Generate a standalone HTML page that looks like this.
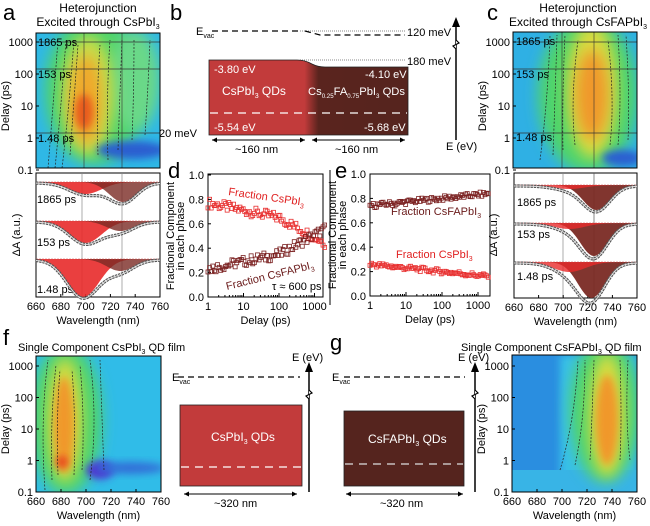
<!DOCTYPE html>
<html><head><meta charset="utf-8"><style>
html,body{margin:0;padding:0;background:#fff}
svg{display:block;font-family:"Liberation Sans",sans-serif}
</style></head><body>
<svg id="s" width="650" height="526" viewBox="0 0 650 526" xmlns="http://www.w3.org/2000/svg">
<defs>
<filter id="bl" x="-50%" y="-50%" width="200%" height="200%"><feGaussianBlur stdDeviation="7"/></filter>
<filter id="bl2" x="-50%" y="-50%" width="200%" height="200%"><feGaussianBlur stdDeviation="4"/></filter>
<linearGradient id="bg" x1="0" x2="1"><stop offset="0" stop-color="#c23b3b"/><stop offset="0.48" stop-color="#c23b3b"/><stop offset="0.55" stop-color="#5a241e"/><stop offset="1" stop-color="#55241e"/></linearGradient>
<clipPath id="ca"><rect x="36" y="33" width="124" height="135"/></clipPath>
<clipPath id="cc"><rect x="513" y="32" width="124" height="136"/></clipPath>
<clipPath id="cf"><rect x="36" y="356" width="125" height="136"/></clipPath>
<clipPath id="cg"><rect x="512" y="355" width="125" height="137"/></clipPath>
</defs>

<!-- Panel a heatmap -->
<g clip-path="url(#ca)">
<rect x="36" y="33" width="124" height="135" fill="#2fb8e6"/>
<ellipse cx="95" cy="90" rx="50" ry="75" fill="#4fd46a" filter="url(#bl)"/>
<ellipse cx="135" cy="80" rx="25" ry="50" fill="#6ad888" filter="url(#bl)"/>
<ellipse cx="88" cy="95" rx="26" ry="60" fill="#c8dc48" filter="url(#bl)"/>
<ellipse cx="86" cy="100" rx="16" ry="45" fill="#f0a82a" filter="url(#bl)"/>
<ellipse cx="84" cy="112" rx="9" ry="18" fill="#e85a1e" filter="url(#bl2)"/>
<ellipse cx="132" cy="150" rx="35" ry="9" fill="#2a5fd0" filter="url(#bl2)"/>
<path d="M48 168 Q52 120 58 40 M55 168 Q60 120 66 40 M62 168 Q68 120 74 40 M70 155 Q74 100 78 45 M98 155 Q96 100 100 45 M108 160 Q106 100 110 40 M118 150 Q120 90 122 40 M132 140 Q134 90 134 40 M145 135 Q148 90 150 40" stroke="#222" stroke-width="0.7" fill="none" stroke-dasharray="2 1.5"/>
<line x1="36" y1="42" x2="160" y2="42" stroke="#333" stroke-width="0.8"/>
<line x1="36" y1="69" x2="160" y2="69" stroke="#333" stroke-width="0.8"/>
<line x1="36" y1="133" x2="160" y2="133" stroke="#333" stroke-width="0.8"/>
<line x1="84" y1="33" x2="84" y2="168" stroke="#333" stroke-width="0.6"/>
<line x1="122" y1="33" x2="122" y2="168" stroke="#333" stroke-width="0.6"/>
</g>
<rect x="36" y="33" width="124" height="135" fill="none" stroke="#000" stroke-width="1"/>
<!-- Panel c heatmap -->
<g clip-path="url(#cc)">
<rect x="513" y="32" width="124" height="136" fill="#2fb0e4"/>
<ellipse cx="588" cy="95" rx="50" ry="78" fill="#4fd46a" filter="url(#bl)"/>
<ellipse cx="592" cy="90" rx="25" ry="68" fill="#d8dc40" filter="url(#bl)"/>
<ellipse cx="592" cy="95" rx="16" ry="45" fill="#f0982a" filter="url(#bl)"/>
<ellipse cx="622" cy="158" rx="20" ry="8" fill="#2a5fd0" filter="url(#bl2)"/>
<path d="M540 160 Q548 100 550 35 M553 155 Q555 100 557 35 M563 150 Q562 100 565 35 M575 145 Q570 100 578 40 M610 145 Q615 100 608 40 M618 145 Q622 100 618 35 M628 140 Q630 100 626 35" stroke="#222" stroke-width="0.7" fill="none" stroke-dasharray="2 1.5"/>
<line x1="513" y1="42" x2="637" y2="42" stroke="#333" stroke-width="0.8"/>
<line x1="513" y1="69" x2="637" y2="69" stroke="#333" stroke-width="0.8"/>
<line x1="513" y1="133" x2="637" y2="133" stroke="#333" stroke-width="0.8"/>
<line x1="562" y1="32" x2="562" y2="168" stroke="#333" stroke-width="0.6"/>
<line x1="594" y1="32" x2="594" y2="168" stroke="#333" stroke-width="0.6"/>
</g>
<rect x="513" y="32" width="124" height="136" fill="none" stroke="#000"/>
<!-- Panel f heatmap -->
<g clip-path="url(#cf)">
<rect x="36" y="356" width="125" height="136" fill="#30bce8"/>
<ellipse cx="66" cy="420" rx="36" ry="75" fill="#4fd46a" filter="url(#bl)"/>
<ellipse cx="65" cy="420" rx="17" ry="62" fill="#d8dc40" filter="url(#bl)"/>
<ellipse cx="64" cy="425" rx="10" ry="48" fill="#f0982a" filter="url(#bl2)"/>
<ellipse cx="62" cy="462" rx="6" ry="6" fill="#e8401e" filter="url(#bl2)"/>
<ellipse cx="100" cy="470" rx="14" ry="9" fill="#5030d0" filter="url(#bl2)"/>
<ellipse cx="130" cy="468" rx="35" ry="6" fill="#3070d8" filter="url(#bl2)"/>
<path d="M45 490 Q40 420 48 360 M52 480 Q50 420 56 365 M58 475 Q56 420 60 370 M74 475 Q76 420 72 370 M82 470 Q85 420 80 365 M90 480 Q98 420 90 360 M104 470 Q102 420 100 360" stroke="#222" stroke-width="0.7" fill="none" stroke-dasharray="2 1.5"/>
</g>
<rect x="36" y="356" width="125" height="136" fill="none" stroke="#000"/>
<!-- Panel g heatmap -->
<g clip-path="url(#cg)">
<rect x="512" y="355" width="125" height="137" fill="#2a8ee0"/>
<rect x="560" y="355" width="77" height="137" fill="#38c0e8" filter="url(#bl2)"/>
<rect x="512" y="470" width="125" height="22" fill="#38b4e6"/>
<ellipse cx="605" cy="410" rx="35" ry="72" fill="#4fd46a" filter="url(#bl)"/>
<ellipse cx="607" cy="415" rx="18" ry="62" fill="#d8dc40" filter="url(#bl)"/>
<ellipse cx="607" cy="420" rx="11" ry="45" fill="#f0982a" filter="url(#bl2)"/>
<path d="M560 470 Q575 420 578 360 M575 465 Q585 420 585 360 M590 460 Q592 420 594 360 M620 460 Q622 420 620 360 M630 460 Q625 420 628 360" stroke="#222" stroke-width="0.7" fill="none" stroke-dasharray="2 1.5"/>
</g>
<rect x="512" y="355" width="125" height="137" fill="none" stroke="#000"/>

<!-- spectra boxes -->
<rect x="36" y="173" width="124" height="124" fill="none" stroke="#000"/>
<rect x="514" y="173" width="123" height="125" fill="none" stroke="#000"/>
<g id="specA"></g><g id="specC"></g>
<line x1="82" y1="173" x2="82" y2="297" stroke="#888" stroke-width="0.7"/>
<line x1="122" y1="173" x2="122" y2="297" stroke="#888" stroke-width="0.7"/>
<line x1="563" y1="173" x2="563" y2="298" stroke="#888" stroke-width="0.7"/>
<line x1="594" y1="173" x2="594" y2="298" stroke="#555" stroke-width="0.7"/>

<!-- d and e -->
<rect x="208" y="174" width="115" height="123" fill="none" stroke="#000"/>
<rect x="370" y="174" width="120" height="122" fill="none" stroke="#000"/>
<line x1="330" y1="170" x2="330" y2="305" stroke="#000" stroke-width="1"/>
<g id="pts"></g>

<!-- panel b -->
<line x1="212" y1="31" x2="300" y2="31" stroke="#000" stroke-dasharray="6 4" stroke-width="1.2"/>
<line x1="300" y1="31" x2="405" y2="31" stroke="#888" stroke-dasharray="1 1"/>
<path d="M305 31 L320 35 L405 35" stroke="#000" stroke-dasharray="6 4" fill="none" stroke-width="1.2"/>
<line x1="300" y1="60" x2="405" y2="60" stroke="#888" stroke-dasharray="1 1"/>
<path d="M209 60 L297 60 Q305 60 312 64 Q318 67 325 67 L408 67 L408 135 L209 135 Z" fill="url(#bg)" stroke="#222" stroke-width="0.8"/>
<line x1="210" y1="113" x2="407" y2="113" stroke="#fff" stroke-dasharray="8 6" stroke-width="1.2"/>
<text x="214" y="73" font-size="11" fill="#fff">-3.80 eV</text>
<text x="365" y="78" font-size="11" fill="#fff">-4.10 eV</text>
<text x="222" y="95" font-size="12" fill="#fff">CsPbI<tspan font-size="7" dy="3">3</tspan><tspan dy="-3"> QDs</tspan></text>
<text x="308" y="95" font-size="11" fill="#fff" textLength="97" lengthAdjust="spacingAndGlyphs">Cs<tspan font-size="6" dy="3">0.25</tspan><tspan dy="-3">FA</tspan><tspan font-size="6" dy="3">0.75</tspan><tspan dy="-3">PbI</tspan><tspan font-size="6" dy="3">3</tspan><tspan dy="-3"> QDs</tspan></text>
<text x="214" y="131" font-size="11" fill="#fff">-5.54 eV</text>
<text x="364" y="131" font-size="11" fill="#fff">-5.68 eV</text>
<text x="159" y="137" font-size="11">20 meV</text>
<text x="407" y="36" font-size="11">120 meV</text>
<text x="407" y="65" font-size="11">180 meV</text>
<text x="196" y="35" font-size="11">E<tspan font-size="7" dy="3">vac</tspan></text>
<line x1="212" y1="140" x2="305" y2="140" stroke="#000"/><path d="M212 140 l5 -2.5 v5z M305 140 l-5 -2.5 v5z"/>
<line x1="312" y1="140" x2="405" y2="140" stroke="#000"/><path d="M312 140 l5 -2.5 v5z M405 140 l-5 -2.5 v5z"/>
<text x="235" y="153" font-size="11">~160 nm</text>
<text x="335" y="153" font-size="11">~160 nm</text>
<line x1="456" y1="140" x2="456" y2="25" stroke="#000" stroke-width="1.5"/><path d="M456 17 l-4 10 h8z"/>
<path d="M456 40 l3 3 l-6 3 l3 3" stroke="#000" fill="#fff" stroke-width="1.2"/>
<text x="446" y="150" font-size="11">E (eV)</text>

<!-- panel f box -->
<line x1="178" y1="377" x2="300" y2="377" stroke="#000" stroke-dasharray="6 4" stroke-width="1.2"/>
<text x="172" y="381" font-size="11">E<tspan font-size="7" dy="3">vac</tspan></text>
<rect x="180" y="405" width="122" height="81" fill="#c23b3b" stroke="#222" stroke-width="0.8"/>
<line x1="181" y1="467" x2="301" y2="467" stroke="#fff" stroke-dasharray="8 6" stroke-width="1.2"/>
<text x="211" y="441" font-size="12" fill="#fff">CsPbI<tspan font-size="7" dy="3">3</tspan><tspan dy="-3"> QDs</tspan></text>
<line x1="184" y1="494" x2="297" y2="494" stroke="#000"/><path d="M184 494 l5 -2.5 v5z M297 494 l-5 -2.5 v5z"/>
<text x="214" y="507" font-size="11">~320 nm</text>
<line x1="309" y1="492" x2="309" y2="370" stroke="#000" stroke-width="1.5"/><path d="M309 362 l-4 10 h8z"/>
<path d="M309 390 l3 3 l-6 3 l3 3" stroke="#000" fill="#fff" stroke-width="1.2"/>
<text x="292" y="361" font-size="11">E (eV)</text>

<!-- panel g box -->
<line x1="344" y1="377" x2="465" y2="377" stroke="#000" stroke-dasharray="6 4" stroke-width="1.2"/>
<text x="332" y="381" font-size="11">E<tspan font-size="7" dy="3">vac</tspan></text>
<rect x="344" y="411" width="120" height="75" fill="#55241e" stroke="#222" stroke-width="0.8"/>
<line x1="345" y1="464" x2="463" y2="464" stroke="#ddd" stroke-dasharray="8 6" stroke-width="1.2"/>
<text x="368" y="443" font-size="12" fill="#fff">CsFAPbI<tspan font-size="7" dy="3">3</tspan><tspan dy="-3"> QDs</tspan></text>
<line x1="346" y1="494" x2="463" y2="494" stroke="#000"/><path d="M346 494 l5 -2.5 v5z M463 494 l-5 -2.5 v5z"/>
<text x="380" y="507" font-size="11">~320 nm</text>
<line x1="475" y1="492" x2="475" y2="370" stroke="#000" stroke-width="1.5"/><path d="M475 362 l-4 10 h8z"/>
<path d="M475 390 l3 3 l-6 3 l3 3" stroke="#000" fill="#fff" stroke-width="1.2"/>
<text x="458" y="361" font-size="11">E (eV)</text>

<!-- panel letters and titles -->
<g font-size="22">
<text x="3" y="20">a</text><text x="170" y="20">b</text><text x="487" y="20">c</text>
<text x="168" y="178">d</text><text x="335" y="178">e</text><text x="3" y="345">f</text><text x="330" y="350">g</text>
</g>
<g font-size="12" text-anchor="middle">
<text x="98" y="12">Heterojunction</text><text x="98" y="26">Excited through CsPbI<tspan font-size="7" dy="3">3</tspan></text>
<text x="578" y="12">Heterojunction</text><text x="578" y="26">Excited through CsFAPbI<tspan font-size="7" dy="3">3</tspan></text>
</g>
<text x="18" y="351" font-size="11">Single Component CsPbI<tspan font-size="7" dy="3">3</tspan><tspan dy="-3"> QD film</tspan></text>
<text x="461" y="351" font-size="11">Single Component CsFAPbI<tspan font-size="7" dy="3">3</tspan><tspan dy="-3"> QD film</tspan></text>

<!-- labels in heatmaps -->
<g font-size="11">
<text x="38" y="46">1865 ps</text><text x="38" y="78">153 ps</text><text x="38" y="142">1.48 ps</text>
<text x="516" y="45">1865 ps</text><text x="516" y="78">153 ps</text><text x="516" y="141">1.48 ps</text>
<text x="37" y="203">1865 ps</text><text x="37" y="246">153 ps</text><text x="37" y="293">1.48 ps</text>
<text x="517" y="206">1865 ps</text><text x="517" y="238">153 ps</text><text x="517" y="280">1.48 ps</text>
</g>
<g id="ticks" font-size="11"></g>
<g font-size="11" fill="#e02020"><text x="228" y="195" transform="rotate(8 228 195)">Fraction CsPbI<tspan font-size="7" dy="3">3</tspan></text>
<text x="396" y="258">Fraction CsPbI<tspan font-size="7" dy="3">3</tspan></text></g>
<g font-size="11" fill="#6a1a1a"><text x="227" y="290" transform="rotate(-14 227 290)">Fraction CsFAPbI<tspan font-size="7" dy="3">3</tspan></text>
<text x="391" y="215">Fraction CsFAPbI<tspan font-size="7" dy="3">3</tspan></text></g>
<text x="272" y="290" font-size="11">τ ≈ 600 ps</text>
</svg>
<script>
var s=document.getElementById('s'),NS='http://www.w3.org/2000/svg';
function el(t,a,p){var e=document.createElementNS(NS,t);for(var k in a)e.setAttribute(k,a[k]);(p||s).appendChild(e);return e}
function tx(x,y,str,anc,rot){var e=el('text',{x:x,y:y,'font-size':11,'text-anchor':anc||'middle'});if(rot)e.setAttribute('transform','rotate(-90 '+x+' '+y+')');e.textContent=str;return e}
function g(x,c,w){return Math.exp(-(x-c)*(x-c)/(2*w*w))}
function wax(x0,x1,y,lab){for(var i=0;i<=5;i++){var x=x0+(x1-x0)*i/5;tx(x,y+13,String(660+20*i));el('line',{x1:x,y1:y,x2:x,y2:y-3,stroke:'#000'})}
tx((x0+x1)/2,y+27,'Wavelength (nm)')}
wax(36,160,297);wax(514,637,298);wax(36,161,492);wax(512,637,492);
function dax(x,yt,yb){var v=['1000','100','10','1','0.1'];for(var i=0;i<5;i++){var y=yt+(yb-yt)*i/4;tx(x-3,y+4,v[i],'end');el('line',{x1:x,y1:y,x2:x+3,y2:y,stroke:'#000'})}tx(x-27,(yt+yb)/2,'Delay (ps)','middle',1)}
dax(36,42,170);dax(513,42,170);dax(36,366,492);dax(512,366,492);
tx(20,235,'ΔA (a.u.)','middle',1);tx(497,235,'ΔA (a.u.)','middle',1);
function spec(x0,x1,base,cr,ar,cd,ad,mode){
 function X(l){return x0+(l-660)*(x1-x0)/100}
 var pr='',pd='',pc='';
 for(var l=660;l<=760;l+=1){var r=ar*g(l,cr,13),d=ad*g(l,cd,11);pr+=(l==660?'M':'L')+X(l)+' '+(base+r);pd+=(l==660?'M':'L')+X(l)+' '+(base+d);pc+=(l==660?'M':'L')+X(l)+' '+(base+r+d+1)}
 var end='L'+X(760)+' '+base+'L'+X(660)+' '+base+'Z';
 if(mode){el('path',{d:pd+end,fill:'#7a2a24',opacity:0.95});el('path',{d:pr+end,fill:'#e82a2a',opacity:0.8})}
 else{el('path',{d:pr+end,fill:'#e82a2a',opacity:0.9});el('path',{d:pd+end,fill:'#7a2a24',opacity:0.8})}
 el('line',{x1:x0,y1:base,x2:x1,y2:base,stroke:'#c44',"stroke-dasharray":'2 1','stroke-width':0.6});
 el('path',{d:pc,fill:'none',stroke:'#555','stroke-width':3.2,'stroke-dasharray':'2.5 0.8'});
 el('path',{d:pc,fill:'none',stroke:'#ddd','stroke-width':1});
}
spec(36,160,182,700,12,730,20,0);spec(36,160,221,700,22,728,10,0);spec(36,160,259,698,38,728,12,0);
spec(514,637,185,705,4,727,25,1);spec(514,637,223,705,6,725,33,1);spec(514,637,262,705,10,723,36,1);
function fax(x0,dec,yb,h,xr){for(var i=0;i<=5;i++){var v=i*0.2,y=yb-v*h;tx(x0-4,y+4,v.toFixed(1),'end');el('line',{x1:x0,y1:y,x2:x0+3,y2:y,stroke:'#000'})}
 ['1','10','100','1000'].forEach(function(t,i){var x=x0+i*dec;tx(x,yb+13,t);el('line',{x1:x,y1:yb,x2:x,y2:yb-4,stroke:'#000'});for(var k=2;k<10&&i<3;k++){var xm=x+Math.log10(k)*dec;el('line',{x1:xm,y1:yb,x2:xm,y2:yb-2,stroke:'#000'})}});
 tx((x0+xr)/2,yb+27,'Delay (ps)');tx(x0-34,yb-h/2,'Fractional Component','middle',1);tx(x0-24,yb-h/2,'in each phase','middle',1)}
fax(208,35.5,297,122,323);fax(370,36,296,122,490);
function Rnd(i){var x=Math.sin(i*12.9898)*43758.5453;return x-Math.floor(x)}
var n=0;
function pts(x0,dec,yb,h,f,col,sp){for(var t=0;t<=3.3;t+=0.045){var v=f(t)+(Rnd(n++)-0.5)*sp;el('rect',{x:x0+t*dec-2,y:yb-v*h-2,width:4,height:4,fill:'none',stroke:col,'stroke-width':0.8})}}
pts(208,35.5,297,122,function(t){return 0.77-0.06*t-0.05*Math.max(0,t-2)*2},'#e83030',0.08);
pts(208,35.5,297,122,function(t){return 0.23+0.06*t+0.05*Math.max(0,t-2)*2},'#7a2020',0.08);
pts(370,36,296,122,function(t){return 0.74+0.03*t},'#7a2020',0.04);
pts(370,36,296,122,function(t){return 0.26-0.03*t},'#e83030',0.04);
</script>
</body></html>
